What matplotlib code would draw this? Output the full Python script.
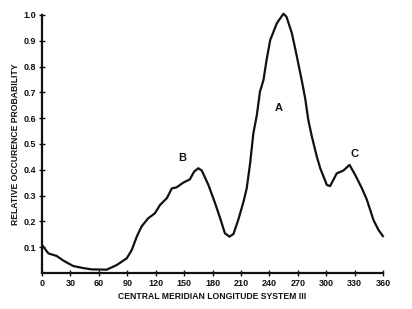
import matplotlib
matplotlib.use("Agg")
import matplotlib.pyplot as plt

# Data
lon = [0.7, 6.7, 15.5, 22.5, 33, 43.6, 52.5, 68.3, 78.9, 89.4, 94.7, 100, 105, 112, 119,
       124.6, 131.7, 137, 142, 149, 156, 160.5, 165, 168.6, 175.6, 182.7, 188, 193, 197.8,
       202, 207, 212.6, 216, 219.6, 223, 226.7, 230, 233.7, 237, 240.8, 247.8, 254.8, 258,
       263.7, 269, 274, 277.7, 281, 284.8, 286.5, 290, 293.6, 300.6, 304, 311, 318, 324.5,
       330.5, 337.6, 342.9, 349.8, 355, 359.7]
prob = [0.105, 0.076, 0.066, 0.048, 0.027, 0.019, 0.014, 0.013, 0.031, 0.057, 0.089, 0.141,
        0.18, 0.212, 0.231, 0.264, 0.29, 0.328, 0.332, 0.35, 0.363, 0.393, 0.406, 0.397,
        0.341, 0.27, 0.212, 0.154, 0.141, 0.151, 0.205, 0.276, 0.328, 0.425, 0.541, 0.612,
        0.703, 0.748, 0.826, 0.903, 0.968, 1.005, 0.993, 0.929, 0.838, 0.748, 0.677, 0.593,
        0.528, 0.503, 0.451, 0.406, 0.341, 0.337, 0.386, 0.397, 0.419, 0.38, 0.328, 0.283,
        0.205, 0.167, 0.143]
x_ticks = [0, 30, 60, 90, 120, 150, 180, 210, 240, 270, 300, 330, 360]
y_ticks = [0.1, 0.2, 0.3, 0.4, 0.5, 0.6, 0.7, 0.8, 0.9, 1.0]
peak_labels = ["B", "A", "C"]
peak_x = [147.5, 249.5, 329.5]
peak_y = [0.446, 0.638, 0.461]

plt.rcParams['font.family'] = ['Liberation Sans', 'DejaVu Sans']

fig = plt.figure(figsize=(4.12, 3.09), dpi=100)
ax = fig.add_axes([0.102, 0.1165, 0.828, 0.835])
ax.plot(lon, prob, color='#111111', lw=1.6, clip_on=False, solid_joinstyle='round')
ax.set_xlim(0, 360)
ax.set_ylim(0, 1.0)
ax.set_xticks(x_ticks)
ax.set_xticklabels([str(t) for t in x_ticks])
ax.set_yticks(y_ticks)
ax.set_yticklabels([f"{t:.1f}" for t in y_ticks])
for s in ['top', 'right']:
    ax.spines[s].set_visible(False)
for s in ['left', 'bottom']:
    ax.spines[s].set_linewidth(1.6)
    ax.spines[s].set_color('#111111')
ax.tick_params(axis='both', direction='inout', length=4, width=1, labelsize=6.5,
               colors='#111111', pad=2)
for lab in ax.get_xticklabels() + ax.get_yticklabels():
    lab.set_fontweight('bold')
ax.set_xlabel("CENTRAL MERIDIAN LONGITUDE SYSTEM III", fontsize=6.2, fontweight='bold',
              color='#111111', labelpad=3)
ax.set_ylabel("RELATIVE OCCURENCE PROBABILITY", fontsize=6.2, fontweight='bold',
              color='#111111', labelpad=3)
for t, x, y in zip(peak_labels, peak_x, peak_y):
    ax.text(x, y, t, fontsize=8, fontweight='bold', ha='center', va='center', color='#111111')

fig.savefig("out.png", dpi=100)
